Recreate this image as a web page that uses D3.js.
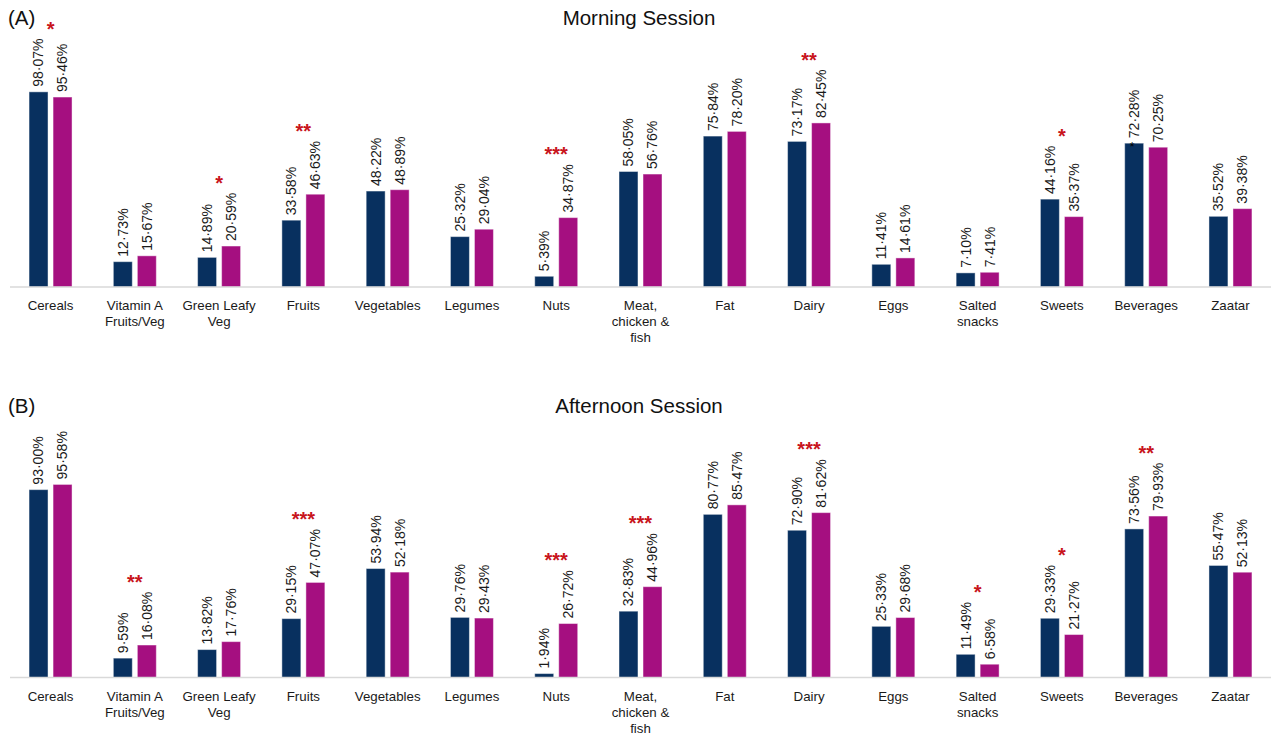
<!DOCTYPE html>
<html>
<head>
<meta charset="utf-8">
<script src="https://cdn.jsdelivr.net/npm/d3@7"></script>
<style>
  html, body { margin: 0; padding: 0; background: #fff; }
  svg { display: block; font-family: Arial, "Liberation Sans", sans-serif; }
</style>
</head>
<body>
<div id="chart"></div>
<script>
// Food groups (a "|" breaks the tick label into lines)
const categories = ["Cereals", "Vitamin A|Fruits/Veg", "Green Leafy|Veg", "Fruits", "Vegetables",
  "Legumes", "Nuts", "Meat,|chicken &|fish", "Fat", "Dairy", "Eggs", "Salted|snacks",
  "Sweets", "Beverages", "Zaatar"];

// (A) Morning session
const morningFirst  = [98.07, 12.73, 14.89, 33.58, 48.22, 25.32, 5.39, 58.05, 75.84, 73.17, 11.41, 7.10, 44.16, 72.28, 35.52];
const morningSecond = [95.46, 15.67, 20.59, 46.63, 48.89, 29.04, 34.87, 56.76, 78.20, 82.45, 14.61, 7.41, 35.37, 70.25, 39.38];
const morningSig    = ["*", "", "*", "**", "", "", "***", "", "", "**", "", "", "*", "", ""];

// (B) Afternoon session
const afternoonFirst  = [93.00, 9.59, 13.82, 29.15, 53.94, 29.76, 1.94, 32.83, 80.77, 72.90, 25.33, 11.49, 29.33, 73.56, 55.47];
const afternoonSecond = [95.58, 16.08, 17.76, 47.07, 52.18, 29.43, 26.72, 44.96, 85.47, 81.62, 29.68, 6.58, 21.27, 79.93, 52.13];
const afternoonSig    = ["", "**", "", "***", "", "", "***", "***", "", "***", "", "*", "*", "**", ""];

const width = 1271;
const height = 735;
const colors = { first: "#08305f", second: "#a50f80" };

const svg = d3.select("#chart")
  .append("svg")
  .attr("width", width)
  .attr("height", height);

// shared x scales
const x0 = d3.scaleBand()
  .domain(categories)
  .range([8.4, 1272.6])
  .paddingInner(0.49)
  .paddingOuter(0.245);

const x1 = d3.scaleBand()
  .domain(["first", "second"])
  .range([0, x0.bandwidth()])
  .paddingInner(0.21);

const fmt = v => d3.format(".2f")(v).replace(".", "·") + "%";

function drawPanel(opts) {
  const g = svg.append("g");
  const y = d3.scaleLinear().domain([0, 100]).range([opts.base, opts.base - opts.pxPer100]);

  // panel letter + title
  g.append("text")
    .attr("x", 8).attr("y", opts.titleY)
    .style("font-size", "20.5px").attr("fill", "#111")
    .text(opts.letter);
  g.append("text")
    .attr("x", 639).attr("y", opts.titleY)
    .attr("text-anchor", "middle")
    .style("font-size", "20.5px").attr("fill", "#111")
    .text(opts.title);

  const rows = categories.map((c, i) => ({
    cat: c, first: opts.first[i], second: opts.second[i], sig: opts.sig[i]
  }));

  const groups = g.selectAll("g.grp")
    .data(rows)
    .join("g")
    .attr("class", "grp")
    .attr("transform", d => `translate(${x0(d.cat)},0)`);

  const bars = groups.selectAll("g.bar")
    .data(d => ["first", "second"].map(k => ({ key: k, value: d[k] })))
    .join("g")
    .attr("class", "bar");

  bars.append("rect")
    .attr("x", d => x1(d.key))
    .attr("width", x1.bandwidth())
    .attr("y", d => y(d.value))
    .attr("height", d => opts.base - y(d.value))
    .attr("fill", d => colors[d.key])
    .attr("stroke", "#ffffff")
    .attr("stroke-opacity", 0.45)
    .attr("stroke-width", 1);

  // rotated value labels
  bars.append("text")
    .attr("class", "val")
    .attr("transform", d => `translate(${x1(d.key) + x1.bandwidth() / 2},${y(d.value) - 5}) rotate(-90)`)
    .attr("dy", "0.35em")
    .style("font-size", "14px")
    .attr("fill", "#1a1a1a")
    .text(d => fmt(d.value));

  // significance stars above the taller label
  groups.each(function(d) {
    if (!d.sig) return;
    const grp = d3.select(this);
    let top = Infinity;
    grp.selectAll("text.val").each(function(v) {
      const t = y(v.value) - 5 - this.getComputedTextLength();
      if (t < top) top = t;
    });
    grp.append("text")
      .attr("x", x0.bandwidth() / 2)
      .attr("y", top - 14 + 11)
      .attr("text-anchor", "middle")
      .style("font-size", "20px")
      .style("font-weight", "bold")
      .attr("fill", "#c8141c")
      .text(d.sig);
  });

  // baseline
  g.append("line")
    .attr("x1", 10).attr("x2", width)
    .attr("y1", opts.base).attr("y2", opts.base)
    .attr("stroke", "#d9d9d9")
    .attr("stroke-width", 1.5);

  // category labels
  const ticks = g.selectAll("text.cat")
    .data(categories)
    .join("text")
    .attr("class", "cat")
    .attr("text-anchor", "middle")
    .style("font-size", "13.3px")
    .attr("fill", "#1a1a1a");

  ticks.selectAll("tspan")
    .data(c => c.split("|").map(line => ({ c, line })))
    .join("tspan")
    .attr("x", d => x0(d.c) + x0.bandwidth() / 2)
    .attr("y", (d, i) => opts.base + 23 + i * 16)
    .text(d => d.line);

  return { g, y };
}

const panelA = drawPanel({
  letter: "(A)", title: "Morning Session", titleY: 25,
  base: 287, pxPer100: 199,
  first: morningFirst, second: morningSecond, sig: morningSig
});

drawPanel({
  letter: "(B)", title: "Afternoon Session", titleY: 413,
  base: 677.5, pxPer100: 202,
  first: afternoonFirst, second: afternoonSecond, sig: afternoonSig
});

// stray small black asterisk sitting on the Beverages bar in panel A
panelA.g.append("text")
  .attr("x", x0("Beverages") + x1("first") + x1.bandwidth() / 2 - 2)
  .attr("y", panelA.y(morningFirst[categories.indexOf("Beverages")]) + 8)
  .attr("text-anchor", "middle")
  .style("font-size", "12px")
  .attr("fill", "#000")
  .text("*");
</script>
</body>
</html>
